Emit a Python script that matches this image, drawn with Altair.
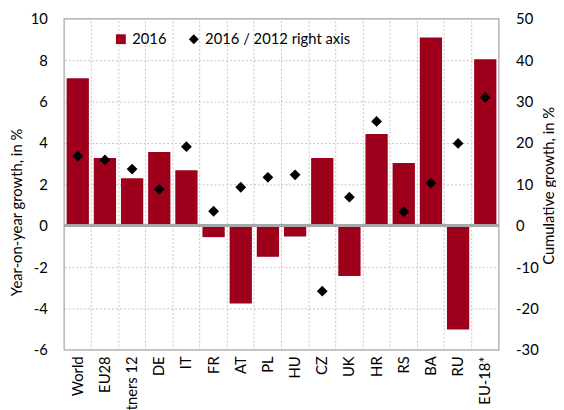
import altair as alt
import pandas as pd

categories = ["World", "EU28", "Partners 12", "DE", "IT", "FR", "AT", "PL",
              "HU", "CZ", "UK", "HR", "RS", "BA", "RU", "EU-18*"]
yoy_2016 = [7.13, 3.27, 2.29, 3.56, 2.68, -0.55, -3.76, -1.5,
            -0.52, 3.27, -2.43, 4.43, 3.03, 9.1, -5.01, 8.05]
cum_2016_2012 = [16.8, 15.9, 13.7, 8.8, 19.1, 3.5, 9.3, 11.7,
                 12.3, -15.8, 6.9, 25.2, 3.4, 10.3, 19.9, 31.0]
series_names = ["2016", "2016 / 2012 right axis"]
left_ticks = [-6, -4, -2, 0, 2, 4, 6, 8, 10]
right_ticks = [-30, -20, -10, 0, 10, 20, 30, 40, 50]

df = pd.DataFrame({"cat": categories, "yoy": yoy_2016,
                   "cum": cum_2016_2012, "series": series_names[1]})

FONT = "Lato"
RED = "#9e001c"
GRID = "#c4c4c4"

legend_opts = dict(title=None, orient="none", legendX=50, legendY=13,
                   direction="horizontal", symbolSize=100, labelOffset=4,
                   columnPadding=20, symbolStrokeWidth=0)

bars = alt.Chart(df).mark_bar(color=RED, width={"band": 0.82}).encode(
    x=alt.X("cat:N", sort=categories,
            scale=alt.Scale(paddingInner=0, paddingOuter=0),
            axis=alt.Axis(title=None, labelAngle=-90, labelPadding=6,
                          ticks=False, domain=False, grid=False)),
    y=alt.Y("yoy:Q", scale=alt.Scale(domain=[-6, 10], nice=False, zero=False),
            axis=alt.Axis(values=left_ticks, title="Year-on-year growth, in %",
                          ticks=False, domain=False, labelPadding=17,
                          labelExpr="datum.value + ''",
                          grid=True, gridDash=[2, 2], gridColor=GRID, gridWidth=1,
                          titleX=-48, titleY=196, titleAngle=270,
                          titleBaseline="middle", titleAlign="center")),
)

zero_rule = alt.Chart(df).mark_rule(color="#a8a8a8", strokeWidth=2).encode(
    y=alt.YDatum(0, type="quantitative")
)

left = alt.layer(bars, zero_rule)

points = alt.Chart(df).mark_point(filled=True, size=120, opacity=1).encode(
    x=alt.X("cat:N", sort=categories,
            axis=alt.Axis(orient="top", labels=False, ticks=False, domain=False,
                          title=None, grid=True, bandPosition=0,
                          gridDash=[2, 2], gridColor=GRID, gridWidth=1)),
    y=alt.Y("cum:Q", scale=alt.Scale(domain=[-30, 50], nice=False, zero=False),
            axis=alt.Axis(orient="right", values=right_ticks,
                          title="Cumulative growth, in %", ticks=False,
                          domain=False, grid=False, labelPadding=17,
                          labelExpr="datum.value + ''",
                          titleX=50, titleY=169, titleAngle=270,
                          titleBaseline="middle", titleAlign="center")),
    color=alt.Color("series:N",
                    scale=alt.Scale(domain=series_names, range=[RED, "black"]),
                    legend=alt.Legend(**legend_opts)),
    shape=alt.Shape("series:N",
                    scale=alt.Scale(domain=series_names, range=["square", "diamond"]),
                    legend=alt.Legend(**legend_opts)),
)

chart = alt.layer(left, points).resolve_scale(y="independent").resolve_axis(
    x="independent"
).properties(
    width=441, height=336,
    autosize=alt.AutoSizeParams(type="none"),
    padding={"left": 57, "top": 8, "right": 58, "bottom": 58},
).configure_axis(
    labelFont=FONT, titleFont=FONT, labelFontSize=15, titleFontSize=15,
    titleFontWeight="normal", labelColor="black", titleColor="black",
).configure_legend(
    labelFont=FONT, labelFontSize=15, labelColor="black",
).configure_view(
    stroke="#b4b4b4", strokeWidth=1.5,
)

chart.save("out.html", embed_options={"renderer": "svg", "actions": False})
